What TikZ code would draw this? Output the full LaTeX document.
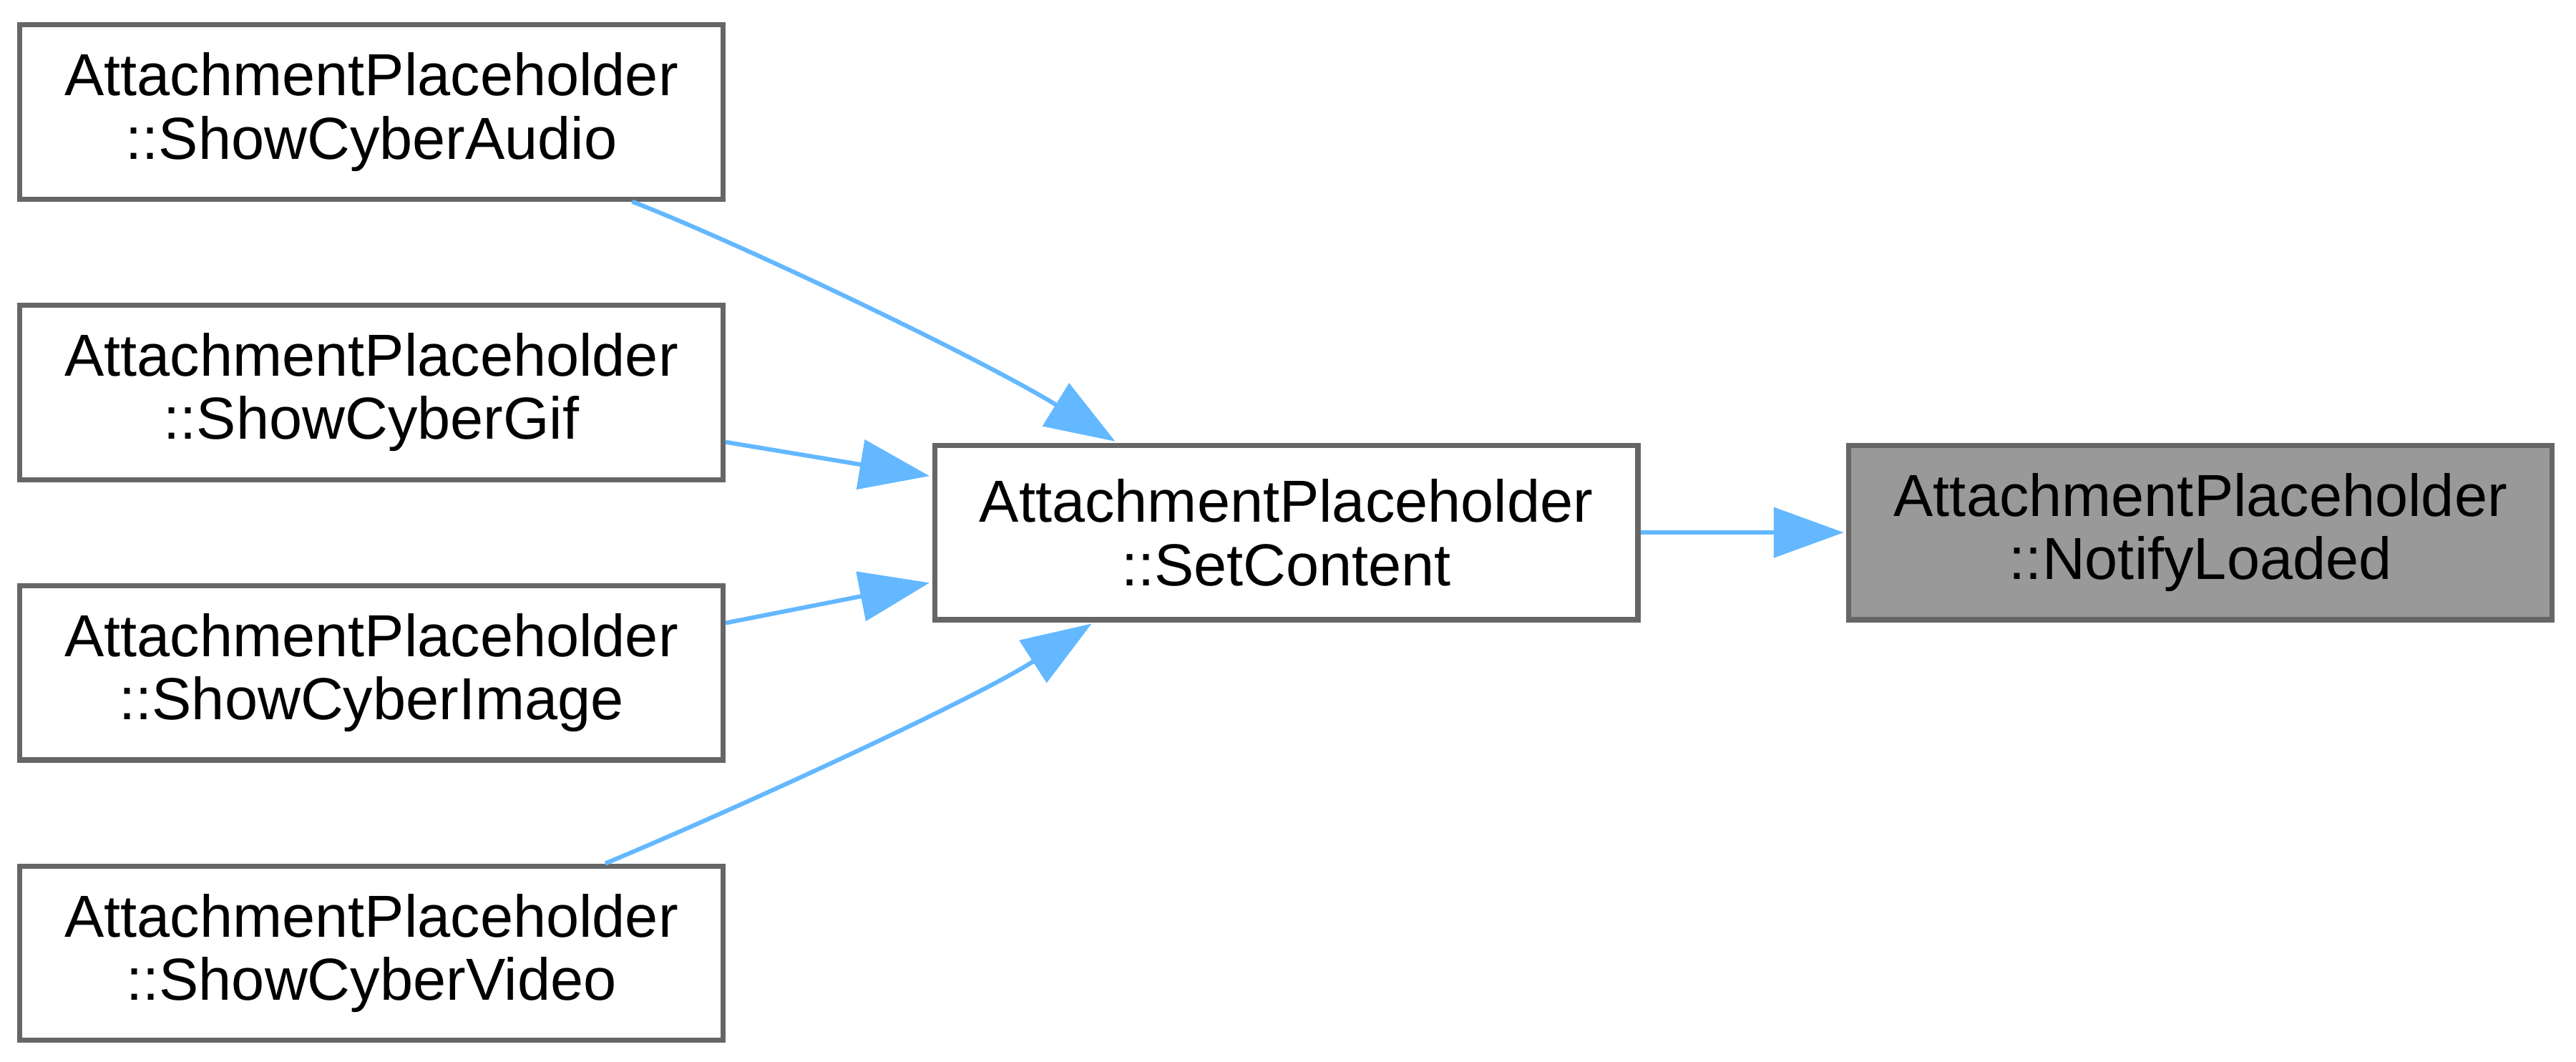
\documentclass[tikz,border=0pt]{standalone}
\usepackage{fontspec}
\setmainfont{Liberation Sans}
\usetikzlibrary{arrows.meta}
\definecolor{cgBorder}{HTML}{666666}
\definecolor{cgFocus}{HTML}{999999}
\definecolor{cgEdge}{HTML}{63B8FF}
\tikzset{
  cg box/.style={draw=cgBorder, fill=white, line width=1pt, rectangle, minimum width=138.7pt, minimum height=34.4pt, inner sep=0pt, align=center, font=\fontsize{11.7}{12.5}\selectfont},
  cg focus/.style={cg box, fill=cgFocus},
  cg edge/.style={draw=cgEdge, line width=0.85pt, -{Triangle[length=13.8pt,width=9.8pt]}, shorten >=0.5pt},
}
\begin{document}
\begin{tikzpicture}[x=1pt,y=-1pt]
  \useasboundingbox (0,0) rectangle (508,209.27);
  \foreach \n/\y/\t in {audio/22.05/ShowCyberAudio,gif/77.35/ShowCyberGif,image/132.65/ShowCyberImage,video/187.95/ShowCyberVideo}{\node[cg box] (\n) at (73.25,\y) {AttachmentPlaceholder\\::\t};}
  \node[cg box] (setc) at (253.65,105) {AttachmentPlaceholder\\::SetContent};
  \node[cg focus] (notify) at (433.95,105) {AttachmentPlaceholder\\::NotifyLoaded};
  % callers of SetContent
  \draw[cg edge] (audio.-19.2) .. controls (146,48) and (194,71) .. (setc.152.6);
  \draw[cg edge] (gif.-8.5) -- (setc.171.2);
  \draw[cg edge] (image.8.5) -- (setc.188.8);
  \draw[cg edge] (video.21.4) .. controls (144,160) and (192,138) .. (setc.205.8);
  \draw[cg edge] (setc.east) -- (notify.west);
\end{tikzpicture}
\end{document}
